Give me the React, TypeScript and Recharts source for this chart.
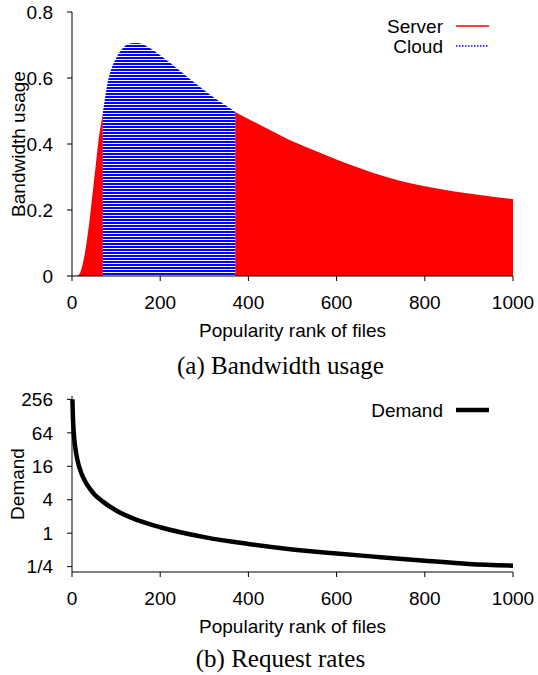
import { ComposedChart, Area, LineChart, Line, XAxis, YAxis, Legend, Label } from 'recharts';

const rankTicks = [0, 200, 400, 600, 800, 1000];
const usageTicks = [0, 0.2, 0.4, 0.6, 0.8];
const demandTicks = [0.25, 1, 4, 16, 64, 256];

// server carries the head and the tail, cloud takes the band in between
const serverHeadRank = [0, 10, 15, 20, 25, 30, 35, 40, 45, 50, 55, 60, 65, 70];
const serverHeadUsage = [0, 0, 0.003, 0.015, 0.04, 0.075, 0.12, 0.17, 0.23, 0.29, 0.35, 0.41, 0.455, 0.495];
const cloudRank = [70, 75, 80, 90, 100, 110, 120, 135, 150, 165, 180, 200, 225, 250, 275, 300, 325, 350, 370];
const cloudUsage = [0.495, 0.54, 0.58, 0.63, 0.66, 0.682, 0.697, 0.705, 0.706, 0.699, 0.688, 0.669, 0.643, 0.616, 0.589, 0.563, 0.538, 0.516, 0.497];
const serverTailRank = [370, 400, 450, 500, 550, 600, 650, 700, 750, 800, 850, 900, 950, 1000];
const serverTailUsage = [0.497, 0.476, 0.442, 0.408, 0.38, 0.353, 0.328, 0.305, 0.286, 0.272, 0.26, 0.25, 0.241, 0.233];

const demandRank = [1, 2, 3, 4, 5, 7, 10, 15, 20, 30, 40, 50, 70, 100, 150, 200, 300, 400, 500, 600, 700, 800, 900, 1000];
const demandValue = [256, 128, 85, 64, 51, 37, 25.6, 17, 12.8, 8.5, 6.4, 5.1, 3.7, 2.56, 1.7, 1.28, 0.85, 0.64, 0.51, 0.43, 0.37, 0.32, 0.28, 0.26];

const usageRows = [
  ...serverHeadRank.map((rank, i) => ({ rank, server: serverHeadUsage[i], cloud: null })),
  ...cloudRank.map((rank, i) => ({ rank, server: null, cloud: cloudUsage[i] })),
  ...serverTailRank.map((rank, i) => ({ rank, server: serverTailUsage[i], cloud: null })),
];

const demandRows = demandRank.map((rank, i) => ({ rank, demand: demandValue[i] }));

const SANS = 'Liberation Sans, Arial, sans-serif';
const SERIF = 'Liberation Serif, Times New Roman, serif';
const tickStyle = { fill: '#000', fontSize: 19, fontFamily: SANS };

function UsageLegend() {
  return (
    <svg width={238} height={60}>
      <text x={143} y={32.8} textAnchor="end" fontSize={19} fontFamily={SANS} fill="#000">Server</text>
      <line x1={156} x2={189} y1={26} y2={26} stroke="#ff0000" strokeWidth={1.5} />
      <text x={143} y={52.8} textAnchor="end" fontSize={19} fontFamily={SANS} fill="#000">Cloud</text>
      <line x1={156} x2={189} y1={46} y2={46} stroke="#0000ff" strokeWidth={1.5} strokeDasharray="1.5 1.5" />
    </svg>
  );
}

function DemandLegend() {
  return (
    <svg width={238} height={50}>
      <text x={143} y={36.8} textAnchor="end" fontSize={19} fontFamily={SANS} fill="#000">Demand</text>
      <line x1={156} x2={189} y1={30} y2={30} stroke="#000" strokeWidth={4.5} />
    </svg>
  );
}

export default function App() {
  return (
    <div style={{ position: 'absolute', left: 0, top: 0, width: 538, height: 675, background: '#fff' }}>
      <div style={{ position: 'absolute', left: 0, top: 0 }}>
        <ComposedChart width={538} height={380} data={usageRows} margin={{ top: 12, right: 25, bottom: 0, left: 0 }}>
          <defs>
            <pattern id="cloudLines" patternUnits="userSpaceOnUse" width={4} height={3}>
              <rect width={4} height={3} fill="#ffffff" />
              <rect width={4} height={2} fill="#0000ff" />
            </pattern>
          </defs>
          <XAxis
            dataKey="rank"
            type="number"
            domain={[0, 1000]}
            ticks={rankTicks}
            height={104}
            tickSize={5}
            tickMargin={15}
            stroke="#000"
            tick={tickStyle}
          >
            <Label value="Popularity rank of files" position="insideTop" offset={48} fontSize={19} fontFamily={SANS} fill="#000" />
            <Label value="(a) Bandwidth usage" position="insideTop" offset={80} dx={-12} fontSize={25} fontFamily={SERIF} fill="#000" />
          </XAxis>
          <YAxis
            type="number"
            domain={[0, 0.8]}
            ticks={usageTicks}
            width={72}
            tickSize={5}
            tickMargin={14}
            stroke="#000"
            tick={tickStyle}
          >
            <Label value="Bandwidth usage" angle={-90} position="insideLeft" offset={18} style={{ textAnchor: 'middle' }} fontSize={19} fontFamily={SANS} fill="#000" />
          </YAxis>
          <Legend layout="vertical" align="center" verticalAlign="middle" wrapperStyle={{ left: 300, top: 0, width: 238 }} content={() => <UsageLegend />} />
          <Area type="monotone" dataKey="server" name="Server" stroke="none" fill="#ff0000" fillOpacity={1} isAnimationActive={false} />
          <Area type="monotone" dataKey="cloud" name="Cloud" stroke="none" fill="url(#cloudLines)" fillOpacity={1} isAnimationActive={false} />
        </ComposedChart>
      </div>
      <div style={{ position: 'absolute', left: 0, top: 380 }}>
        <LineChart width={538} height={295} data={demandRows} margin={{ top: 16, right: 25, bottom: 0, left: 0 }}>
          <XAxis
            dataKey="rank"
            type="number"
            domain={[0, 1000]}
            ticks={rankTicks}
            height={103}
            tickSize={5}
            tickMargin={15}
            stroke="#000"
            tick={tickStyle}
          >
            <Label value="Popularity rank of files" position="insideTop" offset={48} fontSize={19} fontFamily={SANS} fill="#000" />
            <Label value="(b) Request rates" position="insideTop" offset={77} dx={-12} fontSize={25} fontFamily={SERIF} fill="#000" />
          </XAxis>
          <YAxis
            scale="log"
            type="number"
            domain={[0.2, 295]}
            ticks={demandTicks}
            allowDataOverflow
            width={72}
            tickSize={5}
            tickMargin={14}
            stroke="#000"
            tick={tickStyle}
            tickFormatter={(v: number) => (v === 0.25 ? '1/4' : String(v))}
          >
            <Label value="Demand" angle={-90} position="insideLeft" offset={17} style={{ textAnchor: 'middle' }} fontSize={19} fontFamily={SANS} fill="#000" />
          </YAxis>
          <Legend layout="vertical" align="center" verticalAlign="middle" wrapperStyle={{ left: 300, top: 0, width: 238 }} content={() => <DemandLegend />} />
          <Line type="monotone" dataKey="demand" name="Demand" stroke="#000" strokeWidth={4.5} dot={false} isAnimationActive={false} />
        </LineChart>
      </div>
    </div>
  );
}
